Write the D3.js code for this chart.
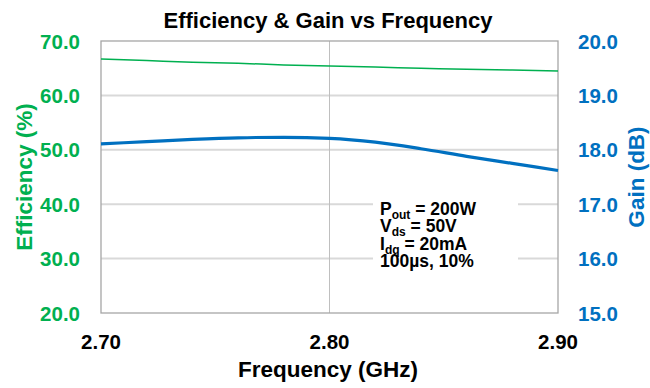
<!DOCTYPE html>
<html>
<head>
<meta charset="utf-8">
<script src="https://cdn.jsdelivr.net/npm/d3@7"></script>
<style>
  body { margin: 0; background: #fff; }
  svg text { font-family: "Liberation Sans", Arial, sans-serif; font-weight: bold; }
</style>
</head>
<body>
<div id="chart"></div>
<script>
// values
const freq = [2.70, 2.72, 2.74, 2.76, 2.78, 2.80, 2.82, 2.84, 2.86, 2.88, 2.90];
const efficiency = [66.7, 66.4, 66.1, 65.9, 65.6, 65.4, 65.2, 65.0, 64.8, 64.65, 64.5];
const gain = [18.11, 18.15, 18.19, 18.22, 18.23, 18.21, 18.14, 18.02, 17.88, 17.75, 17.62];
const effTicks = [20, 30, 40, 50, 60, 70];
const gainTicks = [15, 16, 17, 18, 19, 20];
const freqTicks = [2.70, 2.80, 2.90];

const green = "#00b050", blue = "#0070c0";
const W = 650, H = 388;
const margin = {top: 41, right: 92, bottom: 75, left: 101};
const width = W - margin.left - margin.right;
const height = H - margin.top - margin.bottom;

const svg = d3.select("#chart").append("svg")
    .attr("width", W)
    .attr("height", H);

const g = svg.append("g")
    .attr("transform", `translate(${margin.left},${margin.top})`);

const x = d3.scaleLinear().domain([2.70, 2.90]).range([0, width]);
const yEff = d3.scaleLinear().domain([20, 70]).range([height, 0]);
const yGain = d3.scaleLinear().domain([15, 20]).range([height, 0]);

// horizontal grid
g.selectAll(".hgrid")
    .data(effTicks.slice(1, -1))
    .join("line")
    .attr("x1", 0).attr("x2", width)
    .attr("y1", d => yEff(d)).attr("y2", d => yEff(d))
    .attr("stroke", "#d9d9d9")
    .attr("stroke-width", 2);

// vertical grid
g.selectAll(".vgrid")
    .data(freqTicks.slice(1, -1))
    .join("line")
    .attr("x1", d => x(d)).attr("x2", d => x(d))
    .attr("y1", 0).attr("y2", height)
    .attr("stroke", "#bfbfbf")
    .attr("stroke-width", 1);

// plot border
g.append("rect")
    .attr("width", width).attr("height", height)
    .attr("fill", "none")
    .attr("stroke", "#a6a6a6")
    .attr("stroke-width", 1.3);

// lines
const effLine = d3.line()
    .x((d, i) => x(freq[i]))
    .y(d => yEff(d))
    .curve(d3.curveMonotoneX);

const gainLine = d3.line()
    .x((d, i) => x(freq[i]))
    .y(d => yGain(d))
    .curve(d3.curveMonotoneX);

g.append("path")
    .datum(efficiency)
    .attr("d", effLine)
    .attr("fill", "none")
    .attr("stroke", green)
    .attr("stroke-width", 1.5);

g.append("path")
    .datum(gain)
    .attr("d", gainLine)
    .attr("fill", "none")
    .attr("stroke", blue)
    .attr("stroke-width", 3.2);

// left ticks
svg.selectAll(".ltick")
    .data(effTicks)
    .join("text")
    .attr("x", 80)
    .attr("y", d => margin.top + yEff(d) + 7.5)
    .attr("text-anchor", "end")
    .attr("font-size", 20.5)
    .attr("fill", green)
    .text(d => d.toFixed(1));

// right ticks
svg.selectAll(".rtick")
    .data(gainTicks)
    .join("text")
    .attr("x", 578)
    .attr("y", d => margin.top + yGain(d) + 7.5)
    .attr("text-anchor", "start")
    .attr("font-size", 20.5)
    .attr("fill", blue)
    .text(d => d.toFixed(1));

// x ticks
svg.selectAll(".xtick")
    .data(freqTicks)
    .join("text")
    .attr("x", d => margin.left + x(d))
    .attr("y", 349)
    .attr("text-anchor", "middle")
    .attr("font-size", 20.5)
    .attr("fill", "#000")
    .text(d => d.toFixed(2));

// titles
svg.append("text")
    .attr("x", 328).attr("y", 28)
    .attr("text-anchor", "middle")
    .attr("font-size", 22)
    .text("Efficiency & Gain vs Frequency");

svg.append("text")
    .attr("x", 328).attr("y", 377)
    .attr("text-anchor", "middle")
    .attr("font-size", 22.5)
    .text("Frequency (GHz)");

svg.append("text")
    .attr("transform", "translate(32,177) rotate(-90)")
    .attr("text-anchor", "middle")
    .attr("font-size", 22.5)
    .attr("fill", green)
    .text("Efficiency (%)");

svg.append("text")
    .attr("transform", "translate(644,177) rotate(-90)")
    .attr("text-anchor", "middle")
    .attr("font-size", 22.5)
    .attr("fill", blue)
    .text("Gain (dB)");

// conditions note
svg.append("rect")
    .attr("x", 373).attr("y", 196)
    .attr("width", 145).attr("height", 78)
    .attr("fill", "#fff");

const note = [
    {main: "P", sub: "out", rest: " = 200W"},
    {main: "V", sub: "ds", rest: " = 50V"},
    {main: "I", sub: "dq", rest: " = 20mA"},
    {main: "100µs, 10%", sub: "", rest: ""}
];

note.forEach((n, i) => {
    const t = svg.append("text")
        .attr("x", 380)
        .attr("y", 215 + i * 17.3)
        .attr("font-size", 17.5)
        .attr("fill", "#000");
    t.append("tspan").text(n.main);
    if (n.sub) {
        t.append("tspan").attr("font-size", 12).attr("dy", 4).text(n.sub);
        t.append("tspan").attr("dy", -4).text(n.rest);
    }
});
</script>
</body>
</html>
